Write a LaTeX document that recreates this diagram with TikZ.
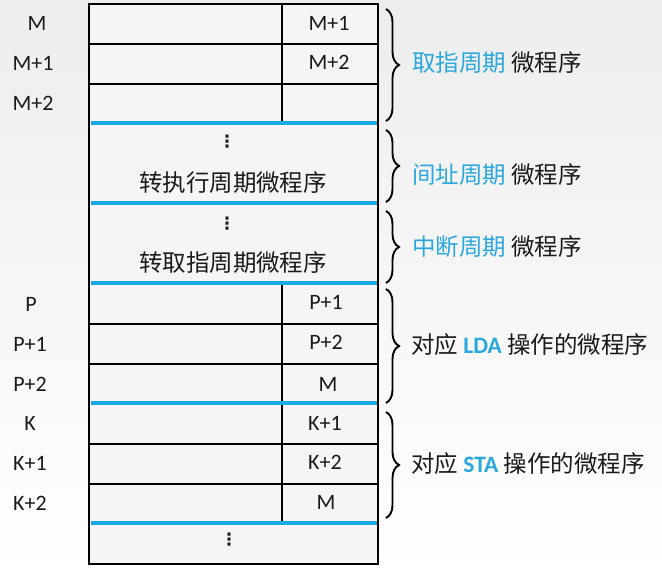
\documentclass[tikz,border=0pt]{standalone}
\usepackage{fontspec}
\setmainfont{Carlito}
\newfontfamily\cjk{Noto Sans CJK SC}
\newfontfamily\djv{DejaVu Sans}
\usetikzlibrary{decorations.pathreplacing}
\definecolor{hlblue}{HTML}{1BA9E1}
\definecolor{txblue}{HTML}{2AA8DC}
\definecolor{txgray}{HTML}{1A1A1A}
\tikzset{
  grid/.style={line width=2.2pt, draw=black},
  sepline/.style={line width=4.5pt, draw=hlblue},
  addr/.style={font=\fontsize{22}{24}\selectfont, text=txgray, anchor=center, inner sep=0pt},
  cjktext/.style={font=\cjk\fontsize{23.5}{26}\selectfont, text=txgray, inner sep=0pt},
  bracedraw/.style={decorate, decoration={brace, amplitude=13pt}, line width=1.9pt},
  note/.style={font=\cjk\fontsize{23.5}{26}\selectfont, text=txgray, anchor=west, inner sep=0pt},
  vdots/.style={font=\djv\bfseries\fontsize{17}{19}\selectfont, text=txgray, inner sep=0pt}
}
\begin{document}
\begin{tikzpicture}[x=1pt,y=-1pt]
\useasboundingbox (0,0) rectangle (662,569);
\shade[top color=black!7, bottom color=white] (0,0) rectangle (662,569);
\fill[white!96!black] (89,4) rectangle (378,564);
% horizontal black row lines
\foreach \yy in {44,84,324,364,444,484}
  \draw[grid] (89,\yy) -- (378,\yy);
% vertical dividers
\draw[grid] (282,4) -- (282,123);
\draw[grid] (282,283) -- (282,523);
% outer frame
\draw[grid] (89,4) rectangle (378,564);
% blue separators
\foreach \yy in {123,203,283,403,523}
  \draw[sepline] (90.5,\yy) -- (376.5,\yy);
% left address labels
\node[addr] (lM)  at (37,23) {M};
\node[addr] (lM1) at (33,63) {M+1};
\node[addr] (lM2) at (33,103) {M+2};
\node[addr] (lP)  at (31,304) {P};
\node[addr] (lP1) at (30,344) {P+1};
\node[addr] (lP2) at (30,384) {P+2};
\node[addr] (lK)  at (30,423) {K};
\node[addr] (lK1) at (30,463) {K+1};
\node[addr] (lK2) at (30,503) {K+2};
% next address column
\node[addr] (rM1) at (329,23) {M+1};
\node[addr] (rM2) at (329,62) {M+2};
\node[addr] (rP1) at (326,302) {P+1};
\node[addr] (rP2) at (326,342) {P+2};
\node[addr] (rM3) at (328,384) {M};
\node[addr] (rK1) at (325,423) {K+1};
\node[addr] (rK2) at (325,462) {K+2};
\node[addr] (rM4) at (326,502) {M};
% block contents
\node[vdots] (d1) at (227,142) {⋮};
\node[cjktext] (t1) at (233,183) {转执行周期微程序};
\node[vdots] (d2) at (227,224) {⋮};
\node[cjktext] (t2) at (233,263) {转取指周期微程序};
\node[vdots] (d3) at (229,540) {⋮};
% braces
\draw[bracedraw] (386,9) -- (386,121);
\draw[bracedraw] (386,130) -- (386,202);
\draw[bracedraw] (386,211) -- (386,283);
\draw[bracedraw] (386,289) -- (386,403);
\draw[bracedraw] (386,412) -- (386,518);
% notes
\node[note] (n1) at (412,63) {\textcolor{txblue}{取指周期} 微程序};
\node[note] (n2) at (412,175) {\textcolor{txblue}{间址周期} 微程序};
\node[note] (n3) at (412,247) {\textcolor{txblue}{中断周期} 微程序};
\node[note] (n4) at (411,345) {对应 {\fontspec{Carlito}\bfseries\color{txblue}LDA} 操作的微程序};
\node[note] (n5) at (411,464) {对应 {\fontspec{Carlito}\bfseries\color{txblue}STA} 操作的微程序};
\end{tikzpicture}
\end{document}
